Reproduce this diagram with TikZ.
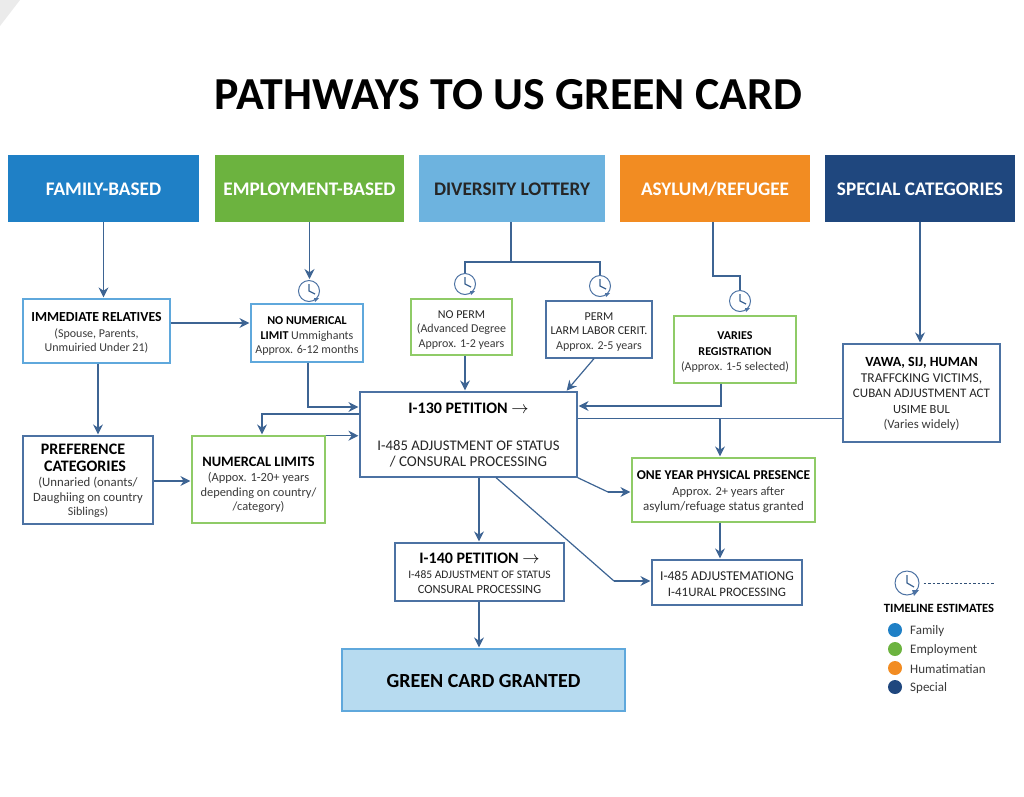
\documentclass[tikz,border=0pt]{standalone}
\usepackage{fontspec}
\setmainfont{Carlito}
\usetikzlibrary{arrows.meta}
\definecolor{famblue}{HTML}{1F80C6}
\definecolor{empgreen}{HTML}{6CB33F}
\definecolor{divblue}{HTML}{6DB3DF}
\definecolor{asyorange}{HTML}{F28C22}
\definecolor{navy}{HTML}{1F477E}
\definecolor{linkblue}{HTML}{3D6493}
\definecolor{edgeblue}{HTML}{5FA8DC}
\definecolor{edgegreen}{HTML}{8FCB67}
\definecolor{edgenavy}{HTML}{4C72A3}
\definecolor{cardblue}{HTML}{B7DBF0}
\definecolor{inkgrey}{HTML}{3A3A3A}
% sized text, argument is the font size
\newcommand{\ttl}[1]{\fontsize{#1}{14}\selectfont\bfseries\color{black}}
\newcommand{\plain}[1]{\fontsize{#1}{14}\selectfont\color{black!85}}
\newcommand{\subt}[1]{\fontsize{#1}{14}\selectfont\color{inkgrey}}
% taller first line, pushes the text of a box down
\newcommand{\lift}[1]{\rule{0pt}{#1pt}}
\begin{document}
\begin{tikzpicture}
	[
	x=1pt, y=-1pt,
	align=center,
	header/.style={minimum height=67pt, inner sep=0pt, text=white, text height=16pt, text depth=2.4pt,
		font=\fontsize{19.2}{20}\selectfont\bfseries},
	box/.style={draw=edgenavy, line width=1.2pt, fill=white, inner sep=0pt, font=\fontsize{12}{14.5}\selectfont},
	blueb/.style={box, draw=edgeblue},
	greenb/.style={box, draw=edgegreen},
	clockface/.style={circle, draw=edgenavy, line width=1pt, fill=white, minimum size=21pt, inner sep=0pt},
	dot/.style={circle, minimum size=14pt, inner sep=0pt},
	link/.style={draw=linkblue, line width=1.2pt},
	arrow/.style={link, -{Stealth[length=10pt,width=10pt]}, shorten >=1pt}
	]
		\useasboundingbox (0,0) rectangle (1024,796);
		\fill[black!8] (0,0) -- (20,0) -- (0,26) -- cycle;
		
		% title
		\node[font=\fontsize{45.8}{50}\selectfont\bfseries, inner sep=0pt] (title) at (508.5, 95) {PATHWAYS TO US GREEN CARD};
		
		% headers
		\node[header, minimum width=191pt, fill=famblue] (h1) at (103.5, 188.5) {FAMILY-BASED};
		\node[header, minimum width=189pt, fill=empgreen] (h2) at (309.5, 188.5) {EMPLOYMENT-BASED};
		\node[header, minimum width=186pt, fill=divblue, text=black!85] (h3) at (512, 188.5) {DIVERSITY LOTTERY};
		\node[header, minimum width=190pt, fill=asyorange] (h4) at (715, 188.5) {ASYLUM/REFUGEE};
		\node[header, minimum width=190pt, fill=navy] (h5) at (920, 188.5) {SPECIAL CATEGORIES};
		
		% first row
		\node[blueb, minimum width=147pt, minimum height=64pt] (n1) at (96.5, 331)
			{\lift{13}{\ttl{13.8} IMMEDIATE RELATIVES}\\[1pt]{\subt{12} (Spouse, Parents,}\\{\subt{12} Unmuiried Under 21)}};
		\node[blueb, minimum width=112pt, minimum height=58pt] (n2) at (307, 333)
			{\lift{14}{\ttl{12} NO NUMERICAL}\\{\ttl{12} LIMIT} {\subt{12} Ummighants}\\{\subt{12} Approx. 6-12 months}};
		\node[greenb, minimum width=101pt, minimum height=56pt] (n3) at (461.5, 327)
			{\lift{13}{\plain{12} NO PERM}\\{\subt{12} (Advanced Degree}\\{\subt{12} Approx. 1-2 years}};
		\node[box, minimum width=106pt, minimum height=57pt] (n4) at (599, 329.5)
			{\lift{12}{\plain{12} PERM}\\{\plain{12} LARM LABOR CERIT.}\\{\subt{12} Approx. 2-5 years}};
		\node[greenb, minimum width=122pt, minimum height=67pt] (n5) at (735, 349.5)
			{\lift{12}{\ttl{12} VARIES}\\[2pt]{\ttl{12} REGISTRATION}\\{\subt{12} (Approx. 1-5 selected)}};
		\node[box, minimum width=157pt, minimum height=98pt] (n6) at (921.5, 393)
			{\lift{12}{\ttl{14} VAWA, SIJ, HUMAN}\\[1pt]{\plain{13.5} TRAFFCKING VICTIMS,}\\[1pt]{\plain{13} CUBAN ADJUSTMENT ACT}\\[1pt]{\plain{12.5} USIME BUL}\\[1pt]{\subt{12.8} (Varies widely)}};
		
		% centre row
		\node[box, minimum width=130pt, minimum height=88pt] (n7) at (88, 480)
			{\lift{13}{\ttl{16} PREFERENCE\hspace*{10pt}}\\[2pt]{\ttl{16} CATEGORIES\hspace*{6pt}}\\[1pt]{\subt{12.8} (Unnaried (onants/}\\{\subt{12.6} Daughiing on country}\\{\subt{12} Siblings)}};
		\node[greenb, minimum width=133pt, minimum height=87pt] (n8) at (258.5, 479.5)
			{\lift{20}{\ttl{14.4} NUMERCAL LIMITS}\\[1pt]{\subt{12.5} (Appox. 1-20+ years}\\{\subt{12.4} depending on country/}\\{\subt{12.4} /category)}};
		\node[box, minimum width=217pt, minimum height=85pt] (n9) at (468.5, 434.5)
			{\lift{12}{\ttl{16} I-130 PETITION $\rightarrow$}\\[22pt]{\plain{14.7} I-485 ADJUSTMENT OF STATUS}\\[2pt]{\plain{15} / CONSURAL PROCESSING}};
		\node[greenb, minimum width=183pt, minimum height=64pt] (n10) at (723.5, 490)
			{\lift{12}{\ttl{13.5} ONE YEAR PHYSICAL PRESENCE}\\[2pt]{\subt{12.5}\hspace*{10pt}Approx. 2+ years after}\\{\subt{13} asylum/refuage status granted}};
		
		% lower row
		\node[box, minimum width=169pt, minimum height=58pt] (n11) at (479.5, 572)
			{\lift{13}{\ttl{16} I-140 PETITION $\rightarrow$}\\[1pt]{\plain{11.5} I-485 ADJUSTMENT OF STATUS}\\{\plain{12.5} CONSURAL PROCESSING}};
		\node[box, minimum width=150pt, minimum height=45pt] (n12) at (727, 582.5)
			{\lift{12}{\plain{13.5} I-485 ADJUSTEMATIONG}\\[1pt]{\plain{12.9} I-41URAL PROCESSING}};
		\node[blueb, fill=cardblue, minimum width=283pt, minimum height=62pt] (n13) at (483.5, 680)
			{\lift{16}{\ttl{20} GREEN CARD GRANTED}};
		
		% clocks
		\foreach \name/\x/\y in {c1/309/291, c2/465/284, c3/600/286, c4/740/301}
		{
			\node[clockface] (\name) at (\x, \y) {};
			\draw[link] (\x, \y-7) -- (\x, \y) -- (\x+6, \y+3);
			\fill[edgenavy] (\x+5, \y+7) -- (\x+10, \y+7) -- (\x+6, \y+11) -- cycle;
		}
		
		% bends
		\coordinate (b1) at (511, 262);
		\coordinate (b2) at (713, 276);
		\coordinate (b3) at (608, 492);
		\coordinate (b4) at (614, 581);
		\coordinate (b5) at (720, 418.5);
		
		% drawing code
		\draw[arrow] (h1.south) -- (h1.south |- n1.north);
		\draw[arrow] (h2.south) -- (h2.south |- c1.north);
		\draw[link] (h3.south -| b1) -- (b1);
		\draw[link] (b1) -| (c2.north);
		\draw[link] (b1) -| (c3.north);
		\draw[link] (h4.south -| b2) -- (b2) -| (c4.north);
		\draw[arrow] (h5.south) -- (h5.south |- n6.north);
		
		\draw[arrow] (n1.east |- 0,323) -- (n2.west |- 0,323);
		\draw[arrow] (n1.south -| 98,0) -- (n7.north -| 98,0);
		\draw[arrow] (n7.east |- 0,481) -- (n8.west |- 0,481);
		\draw[arrow] (n8.east |- 0,435.7) -- (n9.west |- 0,435.7);
		\draw[arrow] (n9.west |- 0,414) -| (n8.north -| 262,0);
		\draw[arrow] (n2.south -| 308,0) |- (n9.west |- 0,407);
		\draw[arrow] (n3.south -| 465,0) -- (n9.north -| 465,0);
		\draw[arrow] (n4.south -| 594,0) -- (n9.north -| 566,0);
		\draw[arrow] (n5.south -| 721,0) |- (n9.east |- 0,406);
		\draw[link, draw=edgenavy] (n6.west |- b5) -- (b5);
		\draw[link, line width=1.8pt] (b5) -- (n9.east |- b5);
		\draw[arrow] (b5) -- (n10.north -| b5);
		\draw[link] (n9.south east) -- (b3);
		\draw[arrow] (b3) -- (n10.west |- b3);
		\draw[arrow] (n10.south -| 720,0) -- (n12.north -| 720,0);
		\draw[arrow] (n9.south -| 479,0) -- (n11.north -| 479,0);
		\draw[link] (n9.south -| 496,0) -- (b4);
		\draw[arrow] (b4) -- (n12.west |- b4);
		\draw[arrow] (n11.south -| 479,0) -- (n13.north -| 479,0);
		
		% legend
		\node[clockface, minimum size=24pt] (c5) at (907, 583) {};
		\draw[link] (907, 575) -- (907, 583) -- (914, 587);
		\fill[edgenavy] (912, 590) -- (919, 590) -- (914, 596) -- cycle;
		\coordinate (l0) at (995, 583);
		\draw[linkblue!80!black, line width=1pt, dash pattern=on 2.5pt off 2pt] (c5.east) ++(4,0) -- (l0);
		\node[font=\fontsize{12.6}{14}\selectfont\bfseries, inner sep=0pt] (lt) at (939, 608) {TIMELINE ESTIMATES};
		\foreach \name/\y/\col/\txt in {l1/630/famblue/Family, l2/649/empgreen/Employment, l3/668/asyorange/Humatimatian, l4/687/navy/Special}
		{
			\node[dot, fill=\col] (\name) at (895, \y) {};
			\node[font=\fontsize{13}{14}\selectfont, text=inkgrey, anchor=west, inner sep=0pt] (\name t) at (910, \y+1) {\txt};
		}
\end{tikzpicture}
\end{document}
